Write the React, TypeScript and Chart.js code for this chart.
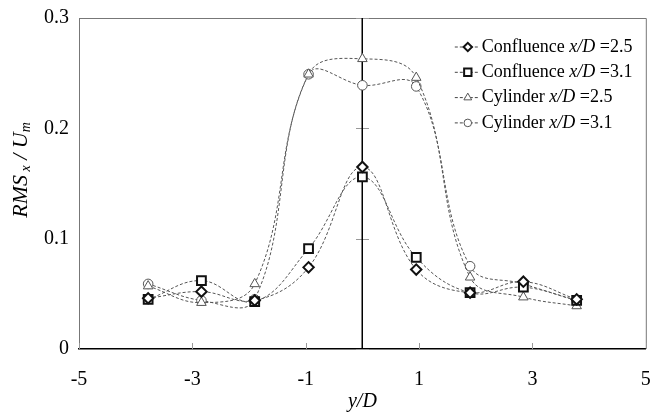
import React, { useEffect, useRef } from 'react';
import { Chart, registerables } from 'chart.js';
import { drawPoint } from 'chart.js/helpers';

Chart.register(...registerables);

const positions = [-3.78, -2.84, -1.9, -0.95, 0, 0.95, 1.9, 2.84, 3.78];
const confluence25 = [0.046, 0.052, 0.044, 0.074, 0.165, 0.072, 0.051, 0.061, 0.045];
const confluence31 = [0.045, 0.062, 0.043, 0.091, 0.156, 0.083, 0.051, 0.056, 0.044];
const cylinder25 = [0.057, 0.042, 0.059, 0.249, 0.263, 0.246, 0.065, 0.047, 0.039];
const cylinder31 = [0.059, 0.044, 0.045, 0.249, 0.239, 0.238, 0.075, 0.059, 0.044];
const seriesNames = ['Confluence', 'Confluence', 'Cylinder', 'Cylinder'];
const seriesXD = ['2.5', '3.1', '2.5', '3.1'];
const xTickValues = [-5, -3, -1, 1, 3, 5];
const yTickValues = [0, 0.1, 0.2, 0.3];

const SERIF = '"Liberation Serif", "Times New Roman", serif';

const markerStyles = [
  { pointStyle: 'rectRot', radius: 5.2, borderWidth: 2, color: '#111' },
  { pointStyle: 'rect', radius: 6.2, borderWidth: 2, color: '#111' },
  { pointStyle: 'triangle', radius: 5.5, borderWidth: 1, color: '#555' },
  { pointStyle: 'circle', radius: 4.8, borderWidth: 1, color: '#555' },
];

const seriesValues = [confluence25, confluence31, cylinder25, cylinder31];

const decorPlugin = {
  id: 'decor',
  beforeDatasetsDraw(chart: any) {
    const { ctx, chartArea: a, scales } = chart;
    const xs = scales.x;
    const ys = scales.y;
    ctx.save();
    ctx.strokeStyle = '#777';
    ctx.lineWidth = 1;
    ctx.beginPath();
    ctx.moveTo(a.left, a.top + 0.5);
    ctx.lineTo(a.right + 0.5, a.top + 0.5);
    ctx.lineTo(a.right + 0.5, a.bottom);
    ctx.stroke();
    ctx.strokeStyle = '#999';
    xTickValues.forEach((v) => {
      const px = Math.round(xs.getPixelForValue(v)) + 0.5;
      ctx.beginPath();
      ctx.moveTo(px, a.bottom);
      ctx.lineTo(px, a.bottom - 6);
      ctx.stroke();
    });
    const x0 = Math.round(xs.getPixelForValue(0));
    yTickValues.forEach((v) => {
      const py = Math.round(ys.getPixelForValue(v)) + 0.5;
      ctx.beginPath();
      ctx.moveTo(x0 - 6, py);
      ctx.lineTo(x0 + 7, py);
      ctx.stroke();
    });
    ctx.strokeStyle = '#000';
    ctx.lineWidth = 1.5;
    ctx.beginPath();
    ctx.moveTo(x0 + 0.25, a.top);
    ctx.lineTo(x0 + 0.25, a.bottom);
    ctx.stroke();
    ctx.restore();
  },
  afterDraw(chart: any) {
    const { ctx, chartArea: a } = chart;
    ctx.save();
    const lx = a.right - 191;
    const ly = a.top + 29;
    const step = 25.3;
    for (let i = 0; i < 4; i++) {
      const y = ly + i * step;
      ctx.strokeStyle = '#444';
      ctx.lineWidth = 1;
      ctx.setLineDash([3, 2]);
      ctx.beginPath();
      ctx.moveTo(lx, y);
      ctx.lineTo(lx + 25, y);
      ctx.stroke();
      ctx.setLineDash([]);
      const m = markerStyles[i];
      ctx.strokeStyle = m.color;
      ctx.fillStyle = '#fff';
      ctx.lineWidth = m.borderWidth;
      drawPoint(ctx, { pointStyle: m.pointStyle as any, radius: m.radius - 1, borderWidth: m.borderWidth, rotation: 0 }, lx + 13, y);
      ctx.fillStyle = '#000';
      ctx.textBaseline = 'middle';
      ctx.textAlign = 'left';
      let tx = lx + 27;
      ctx.font = `18px ${SERIF}`;
      const t1 = seriesNames[i] + ' ';
      ctx.fillText(t1, tx, y);
      tx += ctx.measureText(t1).width;
      ctx.font = `italic 18px ${SERIF}`;
      ctx.fillText('x/D', tx, y);
      tx += ctx.measureText('x/D').width;
      ctx.font = `18px ${SERIF}`;
      ctx.fillText(' =' + seriesXD[i], tx, y);
    }
    ctx.translate(21, 170);
    ctx.rotate(-Math.PI / 2);
    const parts = [
      { t: 'RMS', f: `italic 22px ${SERIF}`, dy: 0 },
      { t: ' x', f: `italic 14px ${SERIF}`, dy: 5 },
      { t: ' / ', f: `italic 22px ${SERIF}`, dy: 0 },
      { t: 'U', f: `italic 22px ${SERIF}`, dy: 0 },
      { t: 'm', f: `italic 14px ${SERIF}`, dy: 5 },
    ];
    let total = 0;
    parts.forEach((p) => { ctx.font = p.f; total += ctx.measureText(p.t).width; });
    let px = -total / 2;
    ctx.textBaseline = 'middle';
    ctx.textAlign = 'left';
    ctx.fillStyle = '#000';
    parts.forEach((p) => {
      ctx.font = p.f;
      ctx.fillText(p.t, px, p.dy);
      px += ctx.measureText(p.t).width;
    });
    ctx.restore();
  },
};

export default function App() {
  const ref = useRef<HTMLCanvasElement | null>(null);
  useEffect(() => {
    if (!ref.current) return;
    const datasets = seriesValues.map((vals, i) => {
      const m = markerStyles[i];
      return {
        label: seriesNames[i] + ' x/D =' + seriesXD[i],
        data: positions.map((x, j) => ({ x, y: vals[j] })),
        showLine: true,
        tension: 0.4,
        borderColor: '#555',
        borderWidth: 1,
        borderDash: [3, 2],
        pointStyle: m.pointStyle,
        pointRadius: m.radius,
        pointBorderWidth: m.borderWidth,
        pointBorderColor: m.color,
        pointBackgroundColor: '#fff',
        clip: false,
      };
    });
    const chart = new Chart(ref.current, {
      type: 'scatter',
      data: { datasets: datasets as any },
      options: {
        animation: false,
        responsive: false,
        devicePixelRatio: 1,
        layout: { padding: { left: 0, top: 18, right: 5, bottom: 0 } },
        plugins: { legend: { display: false }, tooltip: { enabled: false } },
        scales: {
          x: {
            type: 'linear',
            min: -5,
            max: 5,
            afterBuildTicks: (s: any) => { s.ticks = xTickValues.map((v) => ({ value: v })); },
            afterFit: (s: any) => { s.height = 63; s.paddingLeft = 0; s.paddingRight = 0; },
            grid: { display: false, drawTicks: false },
            border: { display: true, color: '#000', width: 1.5 },
            ticks: { color: '#000', font: { family: SERIF, size: 20 }, padding: 19, maxRotation: 0, callback: (v: any) => String(v) },
            title: { display: true, text: 'y/D', color: '#000', font: { family: SERIF, size: 20, style: 'italic' }, padding: { top: 0, bottom: -2 } },
          },
          y: {
            type: 'linear',
            min: 0,
            max: 0.3,
            afterBuildTicks: (s: any) => { s.ticks = yTickValues.map((v) => ({ value: v })); },
            afterFit: (s: any) => { s.width = 79; s.paddingTop = 0; s.paddingBottom = 0; },
            grid: { display: false, drawTicks: false },
            border: { display: true, color: '#777', width: 1 },
            ticks: { color: '#000', font: { family: SERIF, size: 20 }, padding: 10, callback: (v: any) => (v === 0 ? '0' : Number(v).toFixed(1)) },
          },
        },
      },
      plugins: [decorPlugin],
    });
    return () => chart.destroy();
  }, []);
  return (
    <div style={{ width: 654, height: 412 }}>
      <style>{`body{margin:0}`}</style>
      <canvas ref={ref} width={654} height={412} style={{ display: 'block', width: 654, height: 412 }} />
    </div>
  );
}
